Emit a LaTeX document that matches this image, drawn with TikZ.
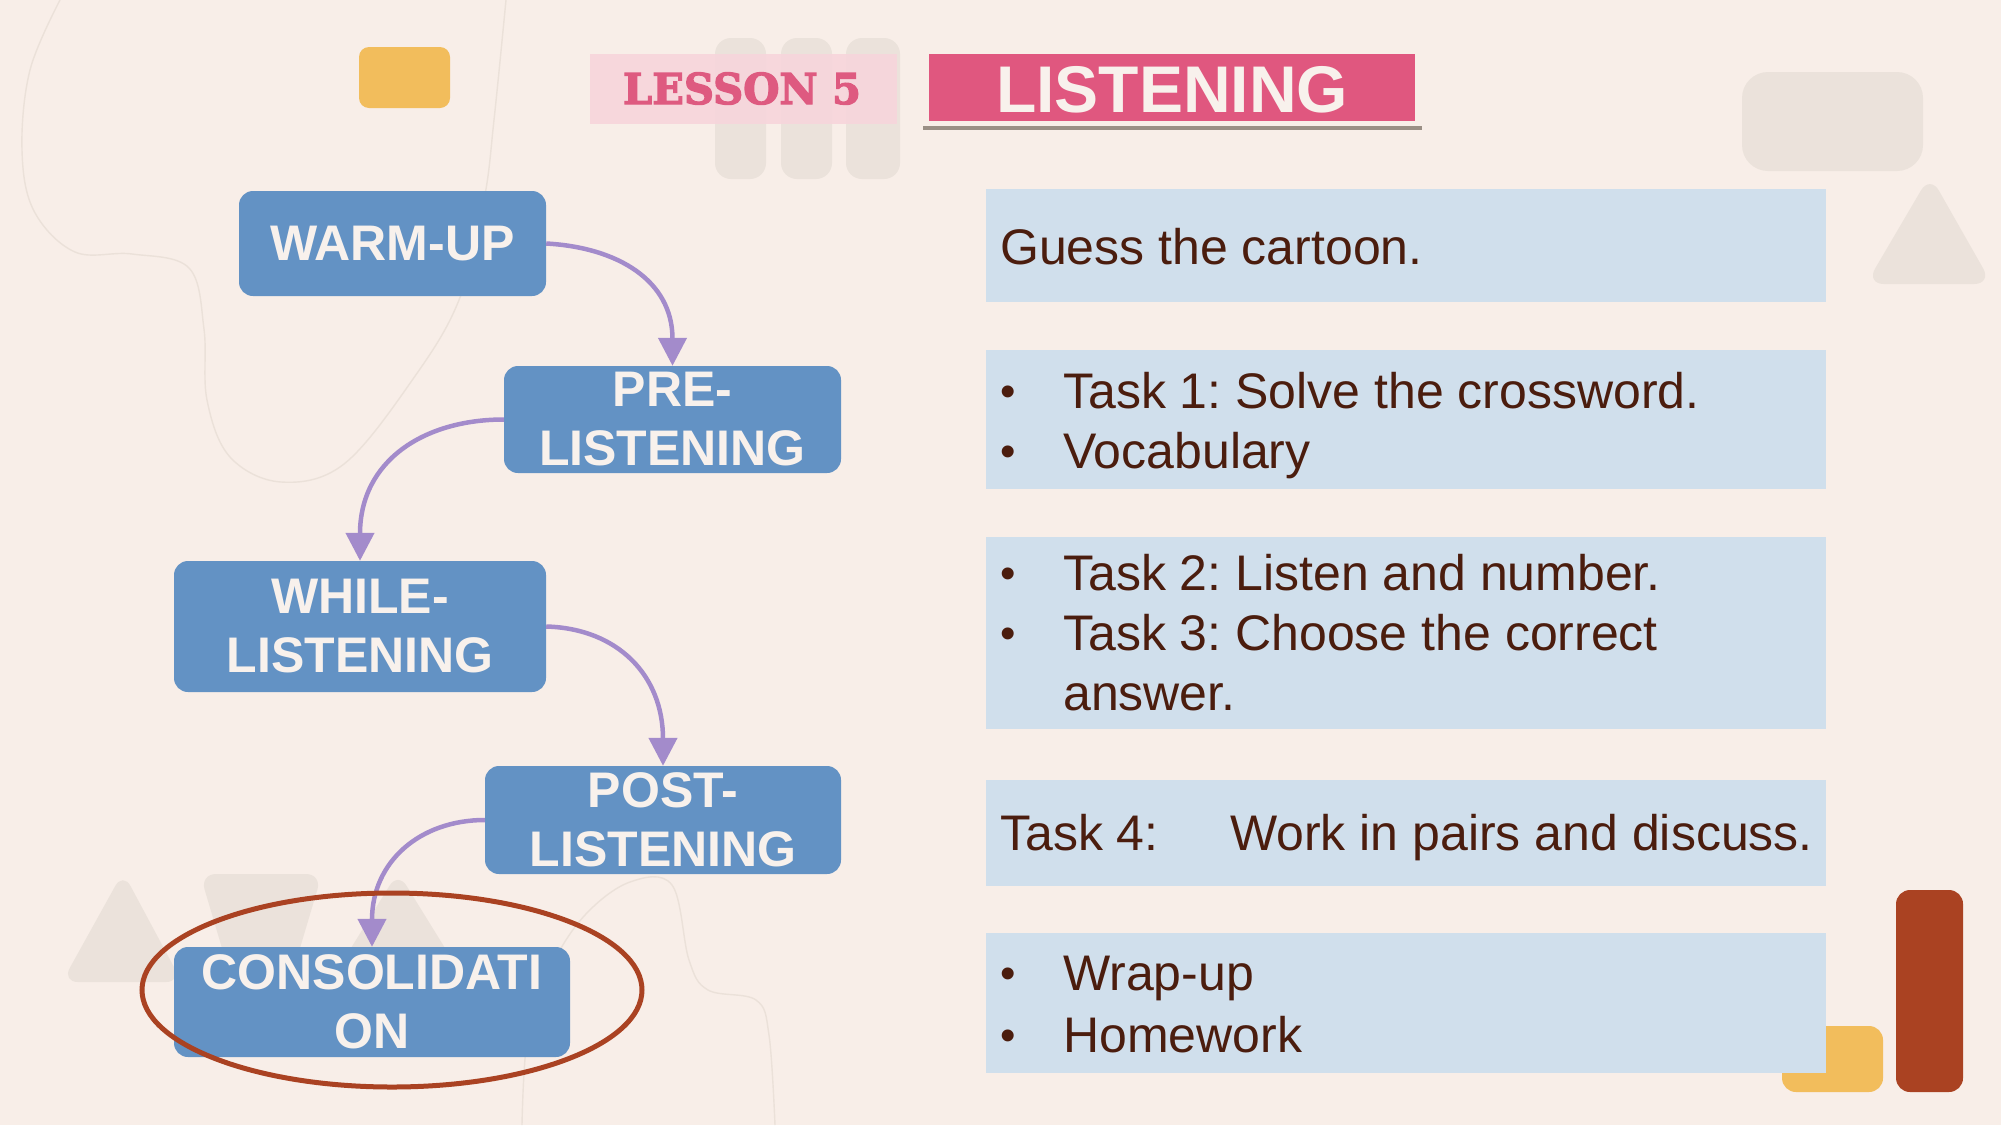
\documentclass[tikz,border=0pt]{standalone}
\usepackage{fontspec}
\setmainfont{Liberation Sans}
\newfontfamily\slabfont{DejaVu Serif}[UprightFont={* Bold}, FakeStretch=0.98, FakeBold=3]
\usetikzlibrary{arrows.meta}
\definecolor{bg}{HTML}{F8EEE8}
\definecolor{deco}{HTML}{EBE2DB}
\definecolor{decoline}{HTML}{EBE1D9}
\definecolor{stepblue}{HTML}{6392C4}
\definecolor{steptext}{HTML}{F8F1EC}
\definecolor{infoblue}{HTML}{D0DFEC}
\definecolor{brownink}{HTML}{4B1D0E}
\definecolor{arrowpurple}{HTML}{A38BCB}
\definecolor{rust}{HTML}{AA4222}
\definecolor{mustard}{HTML}{F2BD5C}
\definecolor{hotpink}{HTML}{E0577F}
\definecolor{palepink}{HTML}{F7D4DB}
\definecolor{lessonpink}{HTML}{DE5A80}
\definecolor{rulegrey}{HTML}{9A8F85}
\frenchspacing
\begin{document}
\begin{tikzpicture}[x=1pt,y=-1pt,
  stepbox/.style={fill=stepblue, rounded corners=14pt, text=steptext,
    font=\bfseries\fontsize{50}{59}\selectfont, align=center, inner sep=0pt},
  infobox/.style={fill=infoblue, anchor=north west, inner sep=0pt},
  txt/.style={text=brownink, font=\fontsize{50}{60}\selectfont, anchor=base west, inner sep=0pt},
  bul/.style={text=brownink, font=\fontsize{44}{60}\selectfont, anchor=base west, inner sep=0pt},
  arr/.style={draw=arrowpurple, line width=4.5pt, -{Triangle[length=28pt,width=28pt]}},
  decoshape/.style={fill=deco},
  thinline/.style={draw=decoline, line width=1.4pt}]
% background
\fill[bg] (0,0) rectangle (2001,1125);
\useasboundingbox (0,0) rectangle (2001,1125);
% faint curvy lines
\draw[thinline] plot[smooth, tension=0.6] coordinates {(60,0) (30,70) (22,150) (34,211) (75,252) (132,254) (189,268) (204,329) (207,400) (230,457) (281,482) (344,464) (413,379) (459,300) (484,200) (494,120) (506,0)};
\draw[thinline] plot[smooth, tension=0.6] coordinates {(522,1125) (528,1033) (551,967) (585,915) (630,882) (672,885) (689,960) (708,990) (756,1000) (769,1035) (775,1125)};
% decorative shapes
\fill[mustard, rounded corners=10pt] (359,47) rectangle (450,108);
\fill[decoshape, rounded corners=16pt] (715,38) rectangle (766,179);
\fill[decoshape, rounded corners=16pt] (781,38) rectangle (832,179);
\fill[decoshape, rounded corners=16pt] (846,38) rectangle (900,179);
\fill[decoshape, rounded corners=26pt] (1742,72) rectangle (1923,171);
\fill[decoshape, rounded corners=18pt] (1930,175) -- (1992,284) -- (1866,284) -- cycle;
\fill[decoshape, rounded corners=16pt] (123,872) -- (182,982) -- (62,982) -- cycle;
\fill[decoshape, rounded corners=16pt] (200,874) -- (322,874) -- (292,975) -- (230,975) -- cycle;
\fill[decoshape, rounded corners=16pt] (398,872) -- (466,982) -- (330,982) -- cycle;
\fill[mustard, rounded corners=14pt] (1782,1026) rectangle (1883,1092);
\fill[rust, rounded corners=14pt] (1896,890) rectangle (1963,1092);
% title
\node[fill=palepink, fill opacity=0.85, minimum width=307pt, minimum height=70pt, inner sep=0pt, anchor=north west] (lessonbox) at (590,54) {};
\node[text=lessonpink, font=\slabfont\fontsize{42.5}{50}\selectfont, anchor=base, inner sep=0pt] (lessontxt) at (742,104) {LESSON 5};
\node[fill=hotpink, minimum width=486pt, minimum height=67pt, inner sep=0pt, anchor=north west] (titlebox) at (929,54) {};
\node[text=steptext, font=\bfseries\fontsize{66}{70}\selectfont, anchor=base, inner sep=0pt] (titletxt) at (1172,112) {LISTENING};
\coordinate (ruleA) at (923,128);
\coordinate (ruleB) at (1422,128);
\draw[rulegrey, line width=4pt] (ruleA) -- (ruleB);
% step boxes
\node[stepbox, minimum width=307pt, minimum height=105pt] (wu) at (392.5,243.5) {WARM-UP};
\node[stepbox, minimum width=337pt, minimum height=107pt] (pre) at (672.5,419.5) {PRE-\\LISTENING};
\node[stepbox, minimum width=372pt, minimum height=131pt] (wl) at (360,626.5) {WHILE-\\LISTENING};
\node[stepbox, minimum width=356pt, minimum height=108pt] (post) at (663,820) {POST-\\LISTENING};
\node[stepbox, minimum width=396pt, minimum height=110pt] (cons) at (372,1002) {CONSOLIDATI\\ON};
% connectors
\draw[arr] (wu.east) .. controls +(72,4) and +(0,-85) .. (pre.north);
\draw[arr] (pre.west) .. controls +(-80,0) and +(0,-100) .. (wl.north);
\draw[arr] (wl.east) .. controls +(72,2) and +(0,-90) .. (post.north);
\draw[arr] (post.west) .. controls +(-65,0) and +(0,-85) .. (cons.north);
% highlight ellipse
\coordinate (ringc) at (392,990);
\draw[rust, line width=5pt] (ringc) ellipse [x radius=250, y radius=97];
% info boxes
\node[infobox, minimum width=840pt, minimum height=113pt] (b1) at (986,189) {};
\node[infobox, minimum width=840pt, minimum height=139pt] (b2) at (986,350) {};
\node[infobox, minimum width=840pt, minimum height=192pt] (b3) at (986,537) {};
\node[infobox, minimum width=840pt, minimum height=106pt] (b4) at (986,780) {};
\node[infobox, minimum width=840pt, minimum height=140pt] (b5) at (986,933) {};
% info texts
\node[txt] (t1) at (1000,264) {Guess the cartoon.};
\node[bul] (t2a) at (1000,406) {•};
\node[txt] (t2b) at (1063,408) {Task 1: Solve the crossword.};
\node[bul] (t2c) at (1000,466) {•};
\node[txt] (t2d) at (1063,468) {Vocabulary};
\node[bul] (t3a) at (1000,588) {•};
\node[txt] (t3b) at (1063,590) {Task 2: Listen and number.};
\node[bul] (t3c) at (1000,648) {•};
\node[txt] (t3d) at (1063,650) {Task 3: Choose the correct};
\node[txt] (t3e) at (1063,710) {answer.};
\node[txt] (t4a) at (1000,850) {Task 4:};
\node[txt] (t4b) at (1230,850) {Work in pairs and discuss.};
\node[bul] (t5a) at (1000,988) {•};
\node[txt] (t5b) at (1063,990) {Wrap-up};
\node[bul] (t5c) at (1000,1050) {•};
\node[txt] (t5d) at (1063,1052) {Homework};
\end{tikzpicture}
\end{document}
